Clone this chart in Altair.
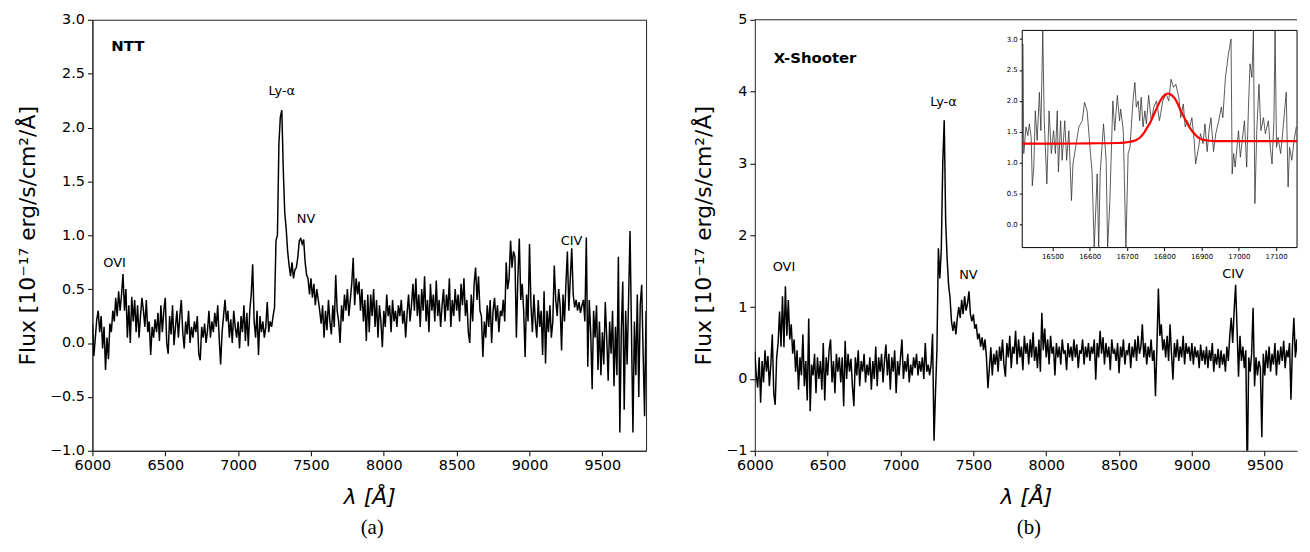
import altair as alt
import pandas as pd

# ---------------- data ----------------
STEP = 10  # Angstrom sampling of the hand-read spectra
NTT_START = 6000
XS_START = 6000

ntt_flux = [
    0.18, -0.12, 0.05, 0.22, 0.30, 0.10, 0.25, -0.05, 0.15, -0.25,
    0.05, -0.15, 0.18, 0.10, 0.30, 0.20, 0.42, 0.25, 0.48, 0.30,
    0.45, 0.64, 0.30, 0.50, 0.05, 0.35, 0.00, 0.43, 0.20, 0.40,
    0.10, 0.35, 0.05, 0.25, 0.42, 0.30, 0.15, 0.40, 0.10, 0.20,
    -0.11, 0.15, 0.05, 0.22, 0.10, 0.28, 0.02, 0.35, 0.10, 0.30,
    0.42, 0.00, -0.10, 0.25, 0.08, 0.35, -0.02, 0.15, 0.30, 0.05,
    0.25, 0.40, 0.10, -0.05, 0.20, 0.08, 0.30, 0.00, 0.15, 0.05,
    0.20, 0.10, 0.25, -0.10, -0.16, 0.15, 0.05, 0.18, 0.00, 0.12,
    0.30, 0.05, 0.20, 0.10, 0.28, 0.15, 0.35, 0.05, -0.20, 0.10,
    0.25, 0.40, 0.20, 0.30, 0.05, 0.22, 0.00, 0.30, 0.15, 0.05,
    0.20, -0.05, 0.25, 0.10, 0.35, 0.02, 0.28, -0.03, 0.30, 0.45,
    0.73, 0.20, 0.05, 0.30, -0.11, 0.25, 0.10, 0.20, 0.05, 0.15,
    0.38, 0.10, 0.20, 0.15, 0.25, 0.33, 0.95, 1.00, 1.85, 2.10,
    2.16, 1.61, 1.21, 1.06, 0.85, 0.72, 0.62, 0.75, 0.60, 0.68,
    0.70, 0.80, 0.95, 0.97, 0.92, 0.96, 0.75, 0.63, 0.60, 0.45,
    0.60, 0.42, 0.55, 0.35, 0.50, 0.40, 0.30, 0.18, 0.35, 0.05,
    0.30, 0.12, 0.40, 0.20, 0.08, 0.35, 0.15, 0.63, 0.30, 0.20,
    0.00, 0.35, 0.20, 0.45, 0.30, 0.50, 0.25, 0.40, 0.55, 0.79,
    0.35, 0.60, 0.45, 0.57, 0.30, 0.50, 0.20, 0.40, 0.02, 0.45,
    0.10, 0.45, 0.25, 0.50, 0.15, 0.40, 0.05, 0.35, 0.20, -0.04,
    0.30, 0.15, 0.45, 0.25, 0.35, 0.10, 0.40, 0.20, 0.30, 0.15,
    0.35, 0.25, 0.40, 0.18, 0.30, 0.05, 0.28, 0.45, 0.20, 0.35,
    0.55, 0.30, 0.60, 0.25, 0.45, 0.15, 0.50, 0.30, 0.62, 0.20,
    0.40, 0.10, 0.55, 0.30, 0.45, 0.20, 0.58, 0.25, 0.40, 0.15,
    0.35, 0.50, 0.20, 0.45, 0.30, 0.60, 0.15, 0.40, 0.25, 0.50,
    0.30, 0.45, 0.20, 0.55, 0.35, 0.60, 0.25, 0.40, 0.10, 0.00,
    0.45, 0.20, 0.55, 0.70, 0.40, 0.62, 0.30, 0.25, -0.13, 0.20,
    0.05, 0.35, 0.15, 0.40, 0.00, 0.30, 0.42, 0.20, 0.35, 0.10,
    0.30, 0.25, 0.40, 0.20, 0.75, 0.50, 0.60, 0.95, 0.70, 0.85,
    0.80, 0.05, 0.60, 0.97, 0.40, 0.55, 0.30, -0.13, 0.45, 0.20,
    0.92, 0.35, 0.10, 0.45, 0.20, 0.05, 0.40, 0.15, 0.30, -0.11,
    0.48, -0.19, 0.30, 0.10, 0.35, 0.05, 0.20, 0.72, 0.40, 0.25,
    0.50, 0.35, -0.07, 0.45, 0.20, 0.55, 0.85, 0.30, 0.60, 0.88,
    0.45, 0.33, 0.40, 0.30, 0.38, 0.28, 0.35, 0.40, 0.20, 0.98,
    -0.22, 0.40, 0.10, -0.43, 0.30, 0.05, 0.35, -0.25, 0.20, -0.30,
    0.10, -0.20, 0.38, 0.05, -0.35, 0.20, -0.10, 0.30, -0.40, 0.15,
    -0.30, 0.80, -0.83, 0.10, 0.57, -0.62, 0.30, -0.20, 0.40, 1.04,
    0.10, -0.83, 0.20, -0.30, 0.45, -0.50, 0.35, 0.54, -0.10, -0.68,
    0.30,
]

xs_flux = [
    0.38, 0.05, -0.12, 0.30, -0.33, 0.25, -0.05, 0.40, 0.10, 0.32,
    -0.10, 0.20, 0.62, -0.20, -0.36, 0.30, 0.50, 0.94, 0.45, 1.15,
    0.44, 1.29, 0.60, 1.10, 0.55, 0.76, 0.35, 0.55, 0.10, 0.40,
    -0.15, 0.30, 0.05, 0.62, -0.10, 0.25, -0.30, 0.84, -0.45, 0.20,
    0.05, 0.35, -0.20, 0.30, 0.00, 0.25, -0.15, 0.50, -0.30, 0.30,
    0.05, 0.40, 0.55, -0.05, 0.25, -0.20, 0.35, 0.10, 0.30, -0.05,
    0.30, -0.38, 0.53, 0.00, 0.35, 0.10, 0.28, -0.10, -0.38, 0.30,
    0.05, 0.40, -0.10, 0.25, 0.10, 0.35, -0.05, 0.20, 0.05, 0.30,
    -0.15, 0.25, 0.00, 0.45, -0.10, 0.30, 0.10, 0.35, -0.05, 0.25,
    0.48, 0.05, 0.35, -0.15, 0.30, 0.10, 0.40, -0.20, 0.25, 0.05,
    0.30, 0.55, 0.00, 0.25, 0.10, 0.35, -0.05, 0.20, 0.05, 0.30,
    0.15, 0.35, 0.05, 0.25, 0.10, 0.30, 0.00, 0.50, 0.10, 0.20,
    0.05, 0.20, 0.63, -0.86, -0.20, 0.40, 1.82, 1.40, 1.80, 3.00,
    3.60, 2.20, 1.68, 1.31, 1.13, 0.80, 0.67, 0.80, 0.62, 0.85,
    1.00, 0.85, 1.10, 0.90, 1.15, 0.95, 1.05, 1.22, 0.90, 0.80,
    0.90, 0.70, 0.76, 0.55, 0.63, 0.45, 0.58, 0.40, 0.55, 0.30,
    -0.13, 0.15, 0.44, 0.05, 0.35, 0.20, 0.40, 0.10, 0.45, 0.25,
    0.55, 0.20, 0.03, 0.50, 0.30, 0.60, 0.15, 0.45, 0.35, 0.67,
    0.20, 0.55, 0.30, 0.45, 0.12, 0.60, 0.35, 0.50, 0.20, 0.55,
    0.30, 0.65, 0.25, 0.45, 0.15, 0.55, 0.10, 0.92, 0.40, 0.70,
    0.30, 0.55, 0.20, 0.60, 0.35, 0.45, 0.05, 0.50, 0.30, 0.45,
    0.20, 0.55, 0.35, 0.40, 0.12, 0.50, 0.30, 0.45, 0.25, 0.55,
    0.30, 0.48, 0.15, 0.40, 0.35, 0.55, 0.20, 0.45, 0.30, 0.50,
    0.25, 0.45, 0.35, 0.55, -0.01, 0.50, 0.30, 0.67, 0.35, 0.58,
    0.20, 0.50, 0.30, 0.45, 0.12, 0.55, 0.35, 0.40, 0.25, 0.50,
    0.08, 0.45, 0.30, 0.55, 0.20, 0.40, 0.35, 0.50, 0.15, 0.45,
    0.30, 0.55, 0.25, 0.60, 0.35, 0.45, 0.76, 0.30, 0.50, 0.20,
    0.45, 0.30, 0.55, 0.25, 0.40, -0.24, 0.45, 1.26, 0.60, 0.76,
    0.40, 0.55, 0.30, 0.60, 0.25, 0.76, 0.35, -0.01, 0.50, 0.30,
    0.55, 0.25, 0.45, 0.30, 0.60, 0.20, 0.50, 0.35, 0.45, 0.25,
    0.50, 0.20, 0.45, 0.30, 0.40, 0.15, 0.48, 0.25, 0.40, 0.20,
    0.45, 0.15, 0.40, 0.25, 0.50, 0.10, 0.35, 0.20, 0.42, 0.15,
    0.40, 0.20, 0.35, 0.10, 0.45, 0.25, 0.60, 0.85, 0.50, 0.95,
    1.31, 0.70, 0.03, 0.60, 0.25, 0.45, 0.15, 0.40, -1.40, 0.30,
    0.10, 0.35, 0.99, -0.10, 0.30, 0.05, 0.25, 0.15, -0.81, 0.35,
    0.05, 0.40, 0.15, 0.45, 0.10, 0.35, 0.20, 0.50, 0.05, 0.40,
    0.20, 0.45, 0.25, 0.53, 0.15, 0.40, 0.30, 0.50, -0.29, 0.45,
    0.85, 0.30, 0.55, 0.20, 0.75, 0.35, 0.60, 0.15, -0.24, 0.45,
    0.30,
]

# inset (zoom around 16800 A)
inset_wl = [
    16421, 16423, 16429, 16434, 16438, 16443, 16446, 16450, 16454, 16459,
    16465, 16469, 16474, 16478, 16485, 16491, 16497, 16503, 16508, 16513,
    16516, 16522, 16526, 16533, 16538, 16544, 16551, 16555, 16562, 16571,
    16580, 16586, 16593, 16602, 16606, 16612, 16620, 16624, 16628, 16637,
    16644, 16648, 16654, 16662, 16667, 16674, 16680, 16683, 16690, 16697,
    16703, 16708, 16716, 16721, 16725, 16730, 16734, 16738, 16743, 16748,
    16752, 16758, 16765, 16772, 16779, 16787, 16796, 16805, 16812, 16818,
    16825, 16831, 16839, 16844, 16851, 16856, 16862, 16868, 16874, 16880,
    16884, 16892, 16897, 16904, 16909, 16915, 16920, 16925, 16932, 16938,
    16946, 16953, 16957, 16964, 16972, 16979, 16982, 16986, 16990, 16995,
    16999, 17004, 17008, 17015, 17021, 17026, 17030, 17035, 17039, 17043,
    17048, 17054, 17059, 17066, 17071, 17079, 17085, 17089, 17094, 17097,
    17101, 17105, 17112, 17118, 17127, 17132, 17136, 17142, 17148, 17154,
]
inset_flux = [
    2.92, 1.15, 1.58, 1.44, 1.63, 1.41, 0.63, 0.93, 1.84, 1.36,
    2.14, 1.52, 3.40, 1.68, 0.66, 1.84, 1.15, 1.52, 1.15, 1.84,
    0.85, 1.68, 1.04, 1.68, 1.04, 1.52, 0.39, 0.98, 1.25, 1.58,
    1.68, 1.98, 1.84, 1.15, 0.88, -0.60, 0.82, -0.60, 0.82, 1.63,
    1.04, -0.60, 0.39, 2.00, 1.52, 2.09, 1.68, 1.87, 1.52, -0.60,
    1.15, 1.25, 2.00, 2.30, 1.90, 2.00, 1.68, 2.06, 1.58, 1.84,
    1.63, 2.09, 1.68, 1.90, 2.00, 1.68, 2.00, 2.11, 2.00, 2.35,
    2.22, 2.27, 2.06, 1.73, 1.95, 1.58, 1.68, 1.58, 1.73, 1.36,
    0.98, 1.25, 1.47, 1.31, 1.63, 1.18, 1.52, 1.73, 1.18, 1.47,
    1.68, 1.90, 1.73, 2.38, 2.76, 3.00, 0.82, 1.15, 0.93, 1.25,
    1.52, 1.09, 1.31, 1.68, 0.93, 1.95, 2.60, 2.38, 3.40, 0.34,
    1.52, 2.27, 1.52, 1.73, 1.47, 1.68, 1.20, 0.98, 1.68, 3.40,
    1.25, 1.41, 1.15, 1.52, 2.14, 0.61, 1.25, 1.04, 1.36, 1.58,
]
fit_wl = [
    16419, 16506, 16599, 16674, 16697, 16716, 16725, 16735, 16744, 16753,
    16763, 16772, 16781, 16790, 16800, 16809, 16818, 16828, 16837, 16846,
    16856, 16865, 16875, 16884, 16893, 16903, 16917, 16936, 17156,
]
fit_flux = [
    1.31, 1.31, 1.315, 1.32, 1.33, 1.35, 1.37, 1.41, 1.47, 1.56,
    1.66, 1.78, 1.90, 2.01, 2.09, 2.12, 2.10, 2.04, 1.94, 1.82,
    1.70, 1.60, 1.51, 1.45, 1.40, 1.375, 1.36, 1.35, 1.35,
]

ntt_line_names = ["OVI", "Ly-α", "NV", "CIV"]
ntt_line_wl = [6152, 7300, 7466, 9288]
ntt_line_flux = [0.74, 2.34, 1.147, 0.945]

xs_line_names = ["OVI", "Ly-α", "NV", "CIV"]
xs_line_wl = [6200, 7295, 7466, 9283]
xs_line_flux = [1.56, 3.85, 1.45, 1.46]

x_ticks = [6000, 6500, 7000, 7500, 8000, 8500, 9000, 9500]
ntt_y_ticks = [-1.0, -0.5, 0.0, 0.5, 1.0, 1.5, 2.0, 2.5, 3.0]
xs_y_ticks = [-1, 0, 1, 2, 3, 4, 5]
inset_x_ticks = [16500, 16600, 16700, 16800, 16900, 17000, 17100]
inset_y_ticks = [0.0, 0.5, 1.0, 1.5, 2.0, 2.5, 3.0]

INSET_X_DOMAIN = [16419, 17156]
INSET_Y_DOMAIN = [-0.37, 3.14]

# ---------------- layout constants ----------------
W1, W2, H = 557.5, 546, 434
XS_XMAX = 6000 + W2 / (W1 / 3800.0)
INSET_PX_X = [269.3, 546]
INSET_PX_Y = [229.4, 10.7]

FONT = "DejaVu Sans"
Y_TITLE = "Flux [10⁻¹⁷ erg/s/cm²/Å]"
X_TITLE = "λ [Å]"

ntt_df = pd.DataFrame({"wl": [NTT_START + STEP * i for i in range(len(ntt_flux))], "flux": ntt_flux})
xs_df = pd.DataFrame({"wl": [XS_START + STEP * i for i in range(len(xs_flux))], "flux": xs_flux})
inset_df = pd.DataFrame({"wl": inset_wl, "flux": inset_flux})
fit_df = pd.DataFrame({"wl": fit_wl, "flux": fit_flux})
frame_df = pd.DataFrame({"x0": [INSET_X_DOMAIN[0]], "x1": [INSET_X_DOMAIN[1]],
                         "y0": [INSET_Y_DOMAIN[0]], "y1": [INSET_Y_DOMAIN[1]]})


def panel(df, xmax, ydomain, yticks, yfmt, names, wls, fluxes, tag, tag_y, extra=None):
    xscale = alt.Scale(domain=[6000, xmax], nice=False, zero=False)
    yscale = alt.Scale(domain=ydomain, nice=False, zero=False)
    xe = alt.X("wl:Q", scale=xscale, axis=alt.Axis(values=x_ticks, format="d", title=X_TITLE))
    ye = alt.Y("flux:Q", scale=yscale, axis=alt.Axis(values=yticks, format=yfmt, title=Y_TITLE))
    line = alt.Chart(df).mark_line(color="black", strokeWidth=1.5, clip=True).encode(x=xe, y=ye)
    lab_df = pd.DataFrame({"wl": wls, "flux": fluxes, "name": names})
    labels = alt.Chart(lab_df).mark_text(font=FONT, fontSize=13, color="black").encode(
        x=xe, y=ye, text="name:N")
    tag_df = pd.DataFrame({"wl": [6130], "flux": [tag_y], "name": [tag]})
    tag_mark = alt.Chart(tag_df).mark_text(font=FONT, fontSize=15, fontWeight="bold", align="left",
                                           baseline="middle", color="black").encode(
        x=xe, y=ye, text="name:N")
    layers = [line, labels, tag_mark]
    if extra is not None:
        layers += extra
    return layers


def caption(txt):
    return alt.TitleParams(txt, orient="bottom", anchor="middle", frame="group",
                           font="Liberation Serif", fontSize=21, fontWeight="normal",
                           color="black", offset=9, dx=3)


left = alt.layer(*panel(ntt_df, 9800, [-1.0, 3.0], ntt_y_ticks, ".1f", ntt_line_names,
                        ntt_line_wl, ntt_line_flux, "NTT", 2.755)).properties(
    width=W1, height=H, title=caption("(a)"))

top_rule = alt.Chart(alt.Data(values=[{}])).mark_rule(color="#222", strokeWidth=1).encode(
    x=alt.value(0), x2=alt.value(W2), y=alt.value(0))
right_main = alt.layer(*panel(xs_df, XS_XMAX, [-1, 5], xs_y_ticks, "d", xs_line_names,
                              xs_line_wl, xs_line_flux, "X-Shooter", 4.47, extra=[top_rule]))

ix = alt.Scale(domain=INSET_X_DOMAIN, range=INSET_PX_X, nice=False, zero=False)
iy = alt.Scale(domain=INSET_Y_DOMAIN, range=INSET_PX_Y, nice=False, zero=False, clamp=True)
inset_frame = alt.Chart(frame_df).mark_rect(fill="white", stroke="black", strokeWidth=1).encode(
    x=alt.X("x0:Q", scale=ix,
            axis=alt.Axis(orient="bottom", offset=-(H - INSET_PX_Y[0]), values=inset_x_ticks,
                          format="d", title=None, labelFontSize=7, tickSize=3, domain=False,
                          labelPadding=2)),
    x2="x1:Q",
    y=alt.Y("y0:Q", scale=iy,
            axis=alt.Axis(orient="left", offset=-INSET_PX_X[0], values=inset_y_ticks,
                          format=".1f", title=None, labelFontSize=7, tickSize=3, domain=False,
                          labelPadding=2)),
    y2="y1:Q",
)
inset_line = alt.Chart(inset_df).mark_line(color="#333", strokeWidth=0.8).encode(
    x=alt.X("wl:Q", scale=ix), y=alt.Y("flux:Q", scale=iy))
fit_line = alt.Chart(fit_df).mark_line(color="#ff0000", strokeWidth=2.2, interpolate="monotone").encode(
    x=alt.X("wl:Q", scale=ix), y=alt.Y("flux:Q", scale=iy))
inset = alt.layer(inset_frame, inset_line, fit_line)

right = alt.layer(right_main, inset).resolve_scale(x="independent", y="independent").properties(
    width=W2, height=H,
    view=alt.ViewBackground(stroke="transparent"),
    title=caption("(b)"),
)

chart = alt.hconcat(left, right, spacing=46).properties(
    padding={"left": 8, "top": 1, "right": 0, "bottom": 0}
).configure_view(stroke="#222", strokeWidth=1).configure_axis(
    labelFont=FONT, labelFontSize=14.5, labelColor="black", labelPadding=3, labelFlush=False,
    tickColor="black", tickSize=5, tickWidth=1,
    domainColor="#222", domainWidth=1, grid=False,
    titleFont=FONT, titleFontSize=22, titleFontWeight="normal", titleColor="black",
).configure_axisX(titlePadding=15, titleFontStyle="italic").configure_axisY(titlePadding=10)

chart.save("out.html", embed_options={"renderer": "svg", "actions": False})
